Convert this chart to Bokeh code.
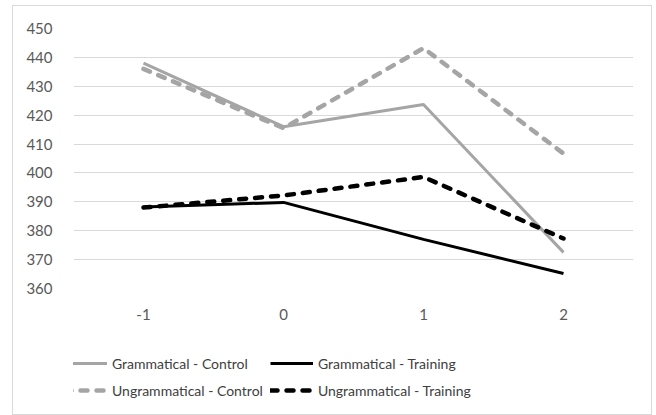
from bokeh.plotting import figure
from bokeh.layouts import column
from bokeh.models import Range1d, FactorRange, Legend, LegendItem
from bokeh.embed import file_html
from bokeh.resources import INLINE

categories = ["-1", "0", "1", "2"]
gram_control = [438.0, 416.0, 423.7, 372.5]
gram_training = [388.2, 389.8, 377.0, 365.2]
ungram_control = [436.0, 415.5, 443.2, 406.7]
ungram_training = [388.0, 392.2, 398.6, 377.3]
y_ticks = [360, 370, 380, 390, 400, 410, 420, 430, 440, 450]
series_names = ["Grammatical - Control", "Ungrammatical - Control",
                "Grammatical - Training", "Ungrammatical - Training"]

FONT = "Lato"
GREY = "#a5a5a5"
styles = {
    "Grammatical - Control": dict(line_color=GREY, line_width=3),
    "Grammatical - Training": dict(line_color="black", line_width=3),
    "Ungrammatical - Control": dict(line_color=GREY, line_width=4.5, line_dash="7 9", line_cap="round"),
    "Ungrammatical - Training": dict(line_color="black", line_width=4.5, line_dash="7 9", line_cap="round"),
}
values = {
    "Grammatical - Control": gram_control,
    "Grammatical - Training": gram_training,
    "Ungrammatical - Control": ungram_control,
    "Ungrammatical - Training": ungram_training,
}

W = 638
x_range = FactorRange(*categories, range_padding=0)
p = figure(width=W, height=318, output_backend="svg", toolbar_location=None,
           x_range=x_range, y_range=Range1d(360, 450),
           min_border_left=60, min_border_right=18, min_border_top=22, min_border_bottom=36)
p.outline_line_color = None
p.yaxis.ticker = y_ticks
p.ygrid.grid_line_color = "#d9d9d9"
p.ygrid.grid_line_width = 1
p.xgrid.grid_line_color = None
for ax in (p.xaxis[0], p.yaxis[0]):
    ax.axis_line_color = None
    ax.major_tick_line_color = None
    ax.minor_tick_line_color = None
    ax.major_label_text_font = FONT
    ax.major_label_text_font_size = "15px"
    ax.major_label_text_color = "#595959"
p.yaxis.major_label_standoff = 15
p.yaxis.axis_label = "\u00a0"
p.yaxis.axis_label_standoff = 0
p.yaxis.axis_label_text_font_size = "6px"
p.xaxis.major_label_standoff = 14

for name in series_names:
    p.line(categories, values[name], **styles[name])

# legend panel: same series, drawn outside its y-range so only the legend shows
q = figure(width=W, height=90, output_backend="svg", toolbar_location=None,
           x_axis_location=None, y_axis_location=None,
           x_range=x_range, y_range=Range1d(0, 1),
           min_border_left=0, min_border_right=0, min_border_top=0, min_border_bottom=0)
q.outline_line_color = None
q.grid.visible = False
items = []
for name in series_names:
    r = q.line(categories, values[name], **styles[name])
    items.append(LegendItem(label=name, renderers=[r]))
legend = Legend(items=items, ncols=2, location=(-9, 14))
legend.border_line_color = None
legend.background_fill_alpha = 0
legend.padding = 0
legend.margin = 0
legend.spacing = 7
legend.glyph_width = 43
legend.glyph_height = 20
legend.label_height = 20
legend.label_standoff = 5
legend.label_text_font = FONT
legend.label_text_font_size = "14px"
legend.label_text_color = "#404040"
q.add_layout(legend, "center")

layout = column(p, q, spacing=0,
                styles={"border": "1px solid #d9d9d9", "margin-left": "12px", "margin-top": "5px"})

open("out.html", "w").write(file_html(layout, INLINE))
